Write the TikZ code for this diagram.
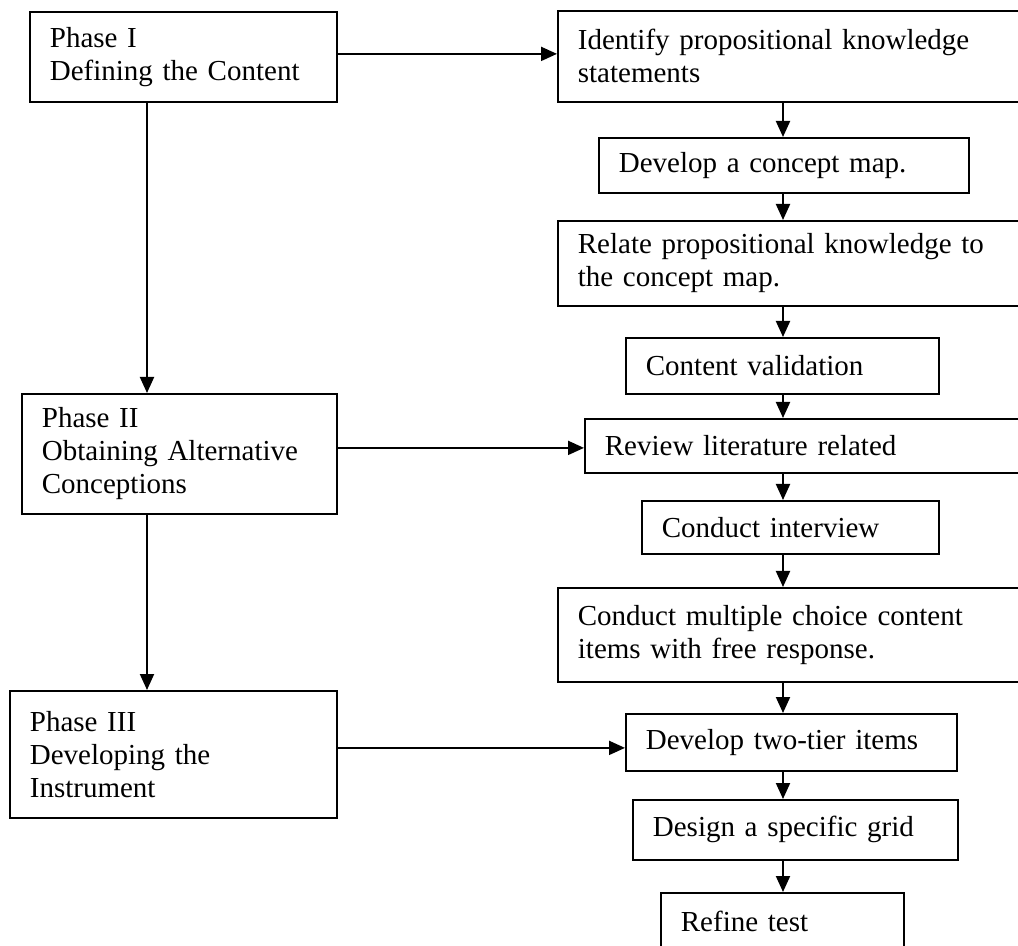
\documentclass[tikz,border=0pt]{standalone}
\usepackage{fontspec}
\setmainfont{Liberation Serif}
\usetikzlibrary{arrows.meta}

\begin{document}
\begin{tikzpicture}[x=0.5pt, y=-0.5pt,
  box/.style={draw, line width=0.9pt, rectangle, anchor=north west, align=left,
    inner xsep=10pt, inner ysep=0pt, font=\fontsize{14.5pt}{16.5pt}\selectfont},
  arr/.style={line width=1pt, -{Triangle[length=8pt, width=7pt]}}]

\fill[white] (0,0) rectangle (1018,946);
\useasboundingbox (0,0) rectangle (1018,946);

\coordinate (lspine) at (147,0);
\coordinate (rspine) at (783,0);

% phases
\node[box, text width=133.5pt, minimum height=45pt] (phaseI) at (29,11) {Phase I\\Defining the Content};
\node[box, text width=137.5pt, minimum height=60pt] (phaseII) at (21,393) {Phase II\\Obtaining Alternative\\Conceptions};
\node[box, text width=143.5pt, minimum height=63.5pt] (phaseIII) at (9,690) {Phase III\\Developing the\\Instrument};

% steps
\node[box, text width=212.5pt, minimum height=45.5pt] (identify) at (557,10) {Identify propositional knowledge\\statements};
\node[box, text width=165pt, minimum height=27.5pt] (concept) at (598,137) {Develop a concept map.};
\node[box, text width=212.5pt, minimum height=42.5pt] (relate) at (557,220) {Relate propositional knowledge to\\the concept map.};
\node[box, text width=136.5pt, minimum height=28pt] (contval) at (625,337) {Content validation};
\node[box, text width=199pt, minimum height=27pt] (review) at (584,418) {Review literature related};
\node[box, text width=128.5pt, minimum height=26.5pt] (interview) at (641,500) {Conduct interview};
\node[box, text width=212.5pt, minimum height=47pt] (multiple) at (557,587) {Conduct multiple choice content\\items with free response.};
\node[box, text width=145.5pt, minimum height=28.5pt] (twotier) at (625,713) {Develop two-tier items};
\node[box, text width=142.5pt, minimum height=30pt] (grid) at (632,799) {Design a specific grid};
\node[box, text width=101.5pt, minimum height=29pt] (refine) at (660,892) {Refine test};

\draw[arr] (phaseI.south -| lspine) -- (phaseII.north -| lspine);
\draw[arr] (phaseII.south -| lspine) -- (phaseIII.north -| lspine);

\draw[arr] ([yshift=1.5pt]phaseI.east) -- ([yshift=1.5pt]phaseI.east -| identify.west);
\draw[arr] ([yshift=3pt]phaseII.east) -- ([yshift=3pt]phaseII.east -| review.west);
\draw[arr] ([yshift=3.25pt]phaseIII.east) -- ([yshift=3.25pt]phaseIII.east -| twotier.west);

\draw[arr] (identify.south -| rspine) -- (concept.north -| rspine);
\draw[arr] (concept.south -| rspine) -- (relate.north -| rspine);
\draw[arr] (relate.south -| rspine) -- (contval.north -| rspine);
\draw[arr] (contval.south -| rspine) -- (review.north -| rspine);
\draw[arr] (review.south -| rspine) -- (interview.north -| rspine);
\draw[arr] (interview.south -| rspine) -- (multiple.north -| rspine);
\draw[arr] (multiple.south -| rspine) -- (twotier.north -| rspine);
\draw[arr] (twotier.south -| rspine) -- (grid.north -| rspine);
\draw[arr] (grid.south -| rspine) -- (refine.north -| rspine);
\end{tikzpicture}
\end{document}
